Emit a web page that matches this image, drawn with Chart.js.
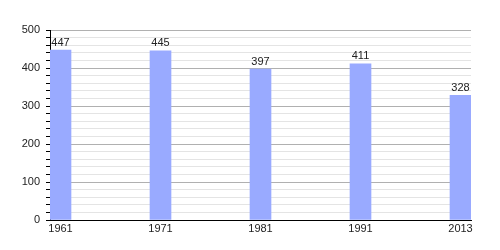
<!DOCTYPE html>
<html>
<head>
<meta charset="utf-8">
<script src="https://cdn.jsdelivr.net/npm/chart.js@4"></script>
<style>
  html, body { margin: 0; padding: 0; background: #fff; }
  #wrap { width: 500px; height: 250px; }
</style>
</head>
<body>
<div id="wrap"><canvas id="chart"></canvas></div>
<script>
const years = ["1961", "1971", "1981", "1991", "2013"];
const population = [447, 445, 397, 411, 328];
const yTicks = [0, 100, 200, 300, 400, 500];

const barColor = "#99aaff";
const font = { family: "'Liberation Sans', Arial, sans-serif", size: 11 };

// draws the value above each bar
const valueLabels = {
    id: "valueLabels",
    afterDatasetsDraw(chart) {
        const ctx = chart.ctx;
        const meta = chart.getDatasetMeta(0);
        ctx.save();
        ctx.font = `${font.size}px ${font.family}`;
        ctx.fillStyle = "#222";
        ctx.textAlign = "center";
        ctx.textBaseline = "bottom";
        meta.data.forEach((bar, i) => {
            ctx.fillText(population[i], bar.x, bar.y - 2);
        });
        ctx.restore();
    }
};

new Chart(document.getElementById("chart"), {
    type: "bar",
    data: {
        datasets: [{
            data: population.map((v, i) => ({ x: i, y: v })),
            backgroundColor: barColor,
            barThickness: 21
        }]
    },
    options: {
        responsive: true,
        maintainAspectRatio: false,
        animation: false,
        layout: { padding: { top: 30, right: 29, left: 0, bottom: 0 } },
        plugins: { legend: { display: false }, tooltip: { enabled: false } },
        scales: {
            x: {
                type: "linear",
                offset: false,
                min: -0.105,
                max: 4.105,
                afterBuildTicks: (scale) => {
                    scale.ticks = years.map((y, i) => ({ value: i }));
                },
                afterFit: (scale) => { scale.height = 30; },
                ticks: {
                    callback: (value) => years[value],
                    color: "#222",
                    font: font,
                    maxRotation: 0,
                    padding: 2
                },
                grid: { display: false, drawTicks: false },
                border: { color: "#000", width: 1 }
            },
            y: {
                min: 0,
                max: yTicks[yTicks.length - 1],
                ticks: {
                    stepSize: 20,
                    callback: (value) => yTicks.includes(value) ? value : "",
                    color: "#222",
                    font: font,
                    padding: 6,
                    autoSkip: false
                },
                afterFit: (scale) => { scale.width = 50; },
                grid: {
                    color: (c) => c.tick && c.tick.value % 100 === 0 ? "#b0b0b0" : "#e4e4e4",
                    tickColor: "#000",
                    tickLength: 4,
                    lineWidth: 1
                },
                border: { color: "#000", width: 1 }
            }
        }
    },
    plugins: [valueLabels]
});
</script>
</body>
</html>
